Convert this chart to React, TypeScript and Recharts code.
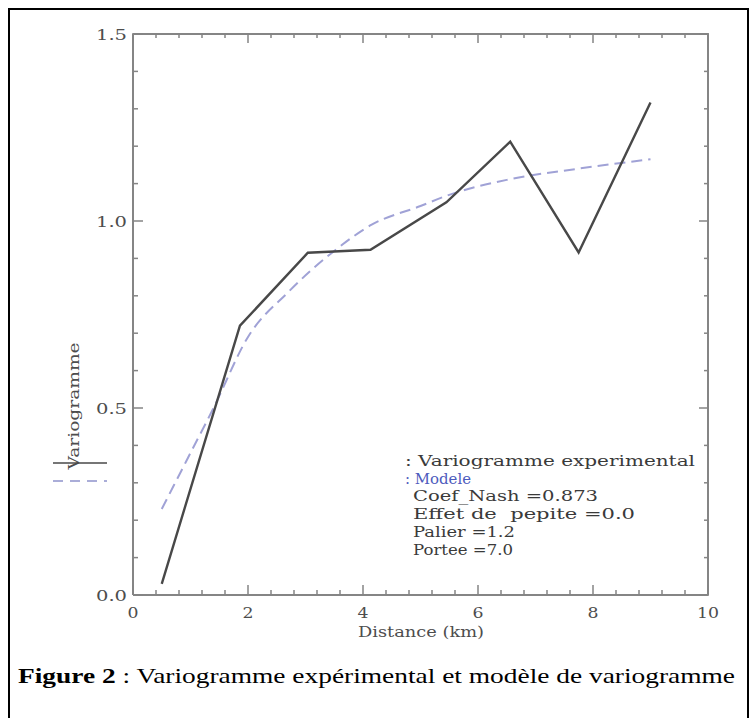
import React from "react";
import { LineChart, Line, XAxis, YAxis } from "recharts";

// experimental variogram (lag in km, gamma)
const lagKm = [0.5, 1.86, 3.04, 4.13, 5.45, 6.56, 7.75, 9.0];
const gammaExp = [0.03, 0.72, 0.915, 0.923, 1.05, 1.212, 0.916, 1.317];

// fitted model
const modelKm = [0.5, 1.0, 1.4, 2.0, 2.7, 3.5, 4.15, 5.0, 5.5, 6.5, 7.75, 9.0];
const gammaModel = [0.23, 0.38, 0.5, 0.69, 0.81, 0.92, 0.99, 1.04, 1.07, 1.11, 1.14, 1.165];

const xTicks = [0, 0.4, 0.8, 1.2, 1.6, 2, 2.4, 2.8, 3.2, 3.6, 4, 4.4, 4.8, 5.2, 5.6, 6, 6.4, 6.8, 7.2, 7.6, 8, 8.4, 8.8, 9.2, 9.6, 10];
const yTicks = [0, 0.1, 0.2, 0.3, 0.4, 0.5, 0.6, 0.7, 0.8, 0.9, 1, 1.1, 1.2, 1.3, 1.4, 1.5];

const legendLines = [
  ": Variogramme experimental",
  ": Modele",
  "Coef_Nash =0.873",
  "Effet de  pepite =0.0",
  "Palier =1.2",
  "Portee =7.0",
];

const expData = lagKm.map((d, i) => ({ d, g: gammaExp[i] }));
const modelData = modelKm.map((d, i) => ({ d, g: gammaModel[i] }));

const AXIS = "#858585";
const TXT = "#4d4d4d";
const FONT = "'DejaVu Serif', serif";

// plot frame edges (chart margins below put the frame here)
const PL = 133, PR = 709, PT = 33, PB = 595;

const near = (v: number, step: number) => Math.abs(v / step - Math.round(v / step)) < 1e-6;

// ticks point inward, IDL style; only the along-axis coordinate comes from recharts
const BottomTick = (p: any) => {
  const v = p.payload.value;
  const major = near(v, 2);
  return (
    <g>
      <line x1={p.x} x2={p.x} y1={PB} y2={PB - (major ? 10 : 5)} stroke={AXIS} strokeWidth={1.5} />
      {major && (
        <text x={p.x} y={PB + 23} textAnchor="middle" fontFamily={FONT} fontSize={14} fill={TXT}
          textLength={String(v).length * 11} lengthAdjust="spacingAndGlyphs">
          {String(v)}
        </text>
      )}
    </g>
  );
};

const TopTick = (p: any) => {
  const major = near(p.payload.value, 2);
  return <line x1={p.x} x2={p.x} y1={PT} y2={PT + (major ? 10 : 5)} stroke={AXIS} strokeWidth={1.5} />;
};

const LeftTick = (p: any) => {
  const v = p.payload.value;
  const major = near(v, 0.5);
  return (
    <g>
      <line x1={PL} x2={PL + (major ? 10 : 5)} y1={p.y} y2={p.y} stroke={AXIS} strokeWidth={1.5} />
      {major && (
        <text x={PL - 6} y={p.y + 6} textAnchor="end" fontFamily={FONT} fontSize={14} fill={TXT}
          textLength={31} lengthAdjust="spacingAndGlyphs">
          {v.toFixed(1)}
        </text>
      )}
    </g>
  );
};

const RightTick = (p: any) => {
  const major = near(p.payload.value, 0.5);
  return <line x1={PR} x2={PR - (major ? 10 : 5)} y1={p.y} y2={p.y} stroke={AXIS} strokeWidth={1.5} />;
};

const legendX = [405, 405, 413, 413, 413, 413];
const legendLen = [290, 66, 185, 222, 102, 100];
const legendY = [466, 484, 501, 519, 537, 555];

export default function App() {
  return (
    <div style={{ position: "absolute", left: 0, top: 0, width: 756, height: 718, background: "#fff" }}>
      <div style={{
        position: "absolute", left: 8, top: 8, width: 737, height: 708,
        borderLeft: "2px solid #000", borderTop: "2px solid #000", borderRight: "2px solid #000",
      }} />
      <div style={{ position: "absolute", left: 0, top: 0 }}>
        <LineChart width={756} height={718} margin={{ top: PT, right: 756 - PR, bottom: 0, left: 0 }}>
          <XAxis xAxisId="b" dataKey="d" type="number" domain={[0, 10]} ticks={xTicks} interval={0}
            height={718 - PB} tickSize={0} tickMargin={0} tick={<BottomTick />}
            axisLine={{ stroke: AXIS, strokeWidth: 2 }} />
          <XAxis xAxisId="t" orientation="top" dataKey="d" type="number" domain={[0, 10]} ticks={xTicks}
            interval={0} height={1} tickSize={0} tickMargin={0} tick={<TopTick />}
            axisLine={{ stroke: AXIS, strokeWidth: 2 }} />
          <YAxis yAxisId="l" type="number" domain={[0, 1.5]} ticks={yTicks} interval={0} width={PL}
            tickSize={0} tickMargin={0} tick={<LeftTick />} axisLine={{ stroke: AXIS, strokeWidth: 2 }} />
          <YAxis yAxisId="r" orientation="right" type="number" domain={[0, 1.5]} ticks={yTicks} interval={0}
            width={1} tickSize={0} tickMargin={0} tick={<RightTick />} axisLine={{ stroke: AXIS, strokeWidth: 2 }} />
          {/* invisible series so the mirrored frame axes get drawn */}
          <Line xAxisId="t" yAxisId="r" data={expData} dataKey="g" stroke="none" dot={false}
            isAnimationActive={false} legendType="none" />
          <Line xAxisId="b" yAxisId="l" data={modelData} dataKey="g" type="monotone" stroke="#a0a2d6"
            strokeWidth={2} strokeDasharray="11 6" dot={false} isAnimationActive={false} />
          <Line xAxisId="b" yAxisId="l" data={expData} dataKey="g" type="linear" stroke="#484848"
            strokeWidth={2.4} dot={false} isAnimationActive={false} />
        </LineChart>
      </div>
      <svg width={756} height={718} style={{ position: "absolute", left: 0, top: 0 }}>
        <text x={421} y={637} textAnchor="middle" fontFamily={FONT} fontSize={14} fill={TXT}
          textLength={126} lengthAdjust="spacingAndGlyphs">Distance (km)</text>
        <text transform="translate(79 406) rotate(-90)" textAnchor="middle" fontFamily={FONT} fontSize={14}
          fill={TXT} textLength={127} lengthAdjust="spacingAndGlyphs">Variogramme</text>
        <line x1={53} x2={107} y1={463} y2={463} stroke="#484848" strokeWidth={1.5} />
        <line x1={53} x2={107} y1={481} y2={481} stroke="#8f92cc" strokeWidth={1.5} strokeDasharray="10 7" />
        {legendLines.map((t, i) => (
          <text key={i} x={legendX[i]} y={legendY[i]} fontFamily={FONT} fontSize={14}
            fill={i === 1 ? "#4d5bbd" : "#3a3a3a"} textLength={legendLen[i]} lengthAdjust="spacingAndGlyphs"
            style={{ whiteSpace: "pre" }}>
            {t}
          </text>
        ))}
        <text x={18} y={683} fontFamily="'Liberation Serif', 'Times New Roman', serif" fontSize={22} fill="#000"
          textLength={717} lengthAdjust="spacingAndGlyphs">
          <tspan fontWeight="bold">Figure 2</tspan>
          <tspan> : Variogramme expérimental et modèle de variogramme</tspan>
        </text>
      </svg>
    </div>
  );
}
